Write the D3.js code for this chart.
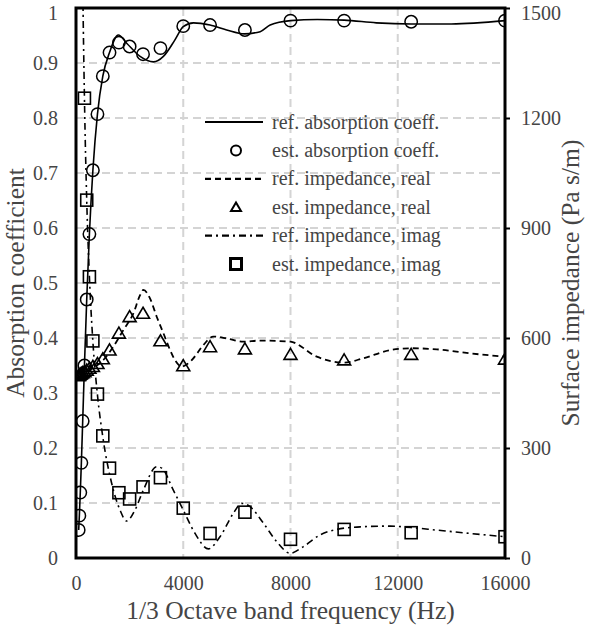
<!DOCTYPE html>
<html>
<head>
<meta charset="utf-8">
<script src="https://cdn.jsdelivr.net/npm/d3@7"></script>
<style>
  html, body { margin: 0; padding: 0; background: #fff; }
  svg { display: block; }
  text { font-family: "Liberation Serif", "Times New Roman", serif; fill: #454545; }
</style>
</head>
<body>
<svg id="chart" width="600" height="628"></svg>
<script>
// ---------- data ----------
const bandFreqs = [100, 125, 160, 200, 250, 315, 400, 500, 630, 800, 1000, 1250, 1600, 2000, 2500, 3150, 4000, 5000, 6300, 8000, 10000, 12500, 16000];
const estAbsorption = [0.051, 0.077, 0.119, 0.173, 0.249, 0.35, 0.47, 0.589, 0.705, 0.807, 0.876, 0.919, 0.937, 0.93, 0.916, 0.927, 0.967, 0.969, 0.96, 0.977, 0.977, 0.975, 0.977];
const estReal = [497, 499, 501, 503, 505, 508, 512, 517, 522, 530, 543, 567, 613, 658, 667, 592, 524, 576, 570, 555, 540, 555, 542];
const imagFreqs = [315, 400, 500, 630, 800, 1000, 1250, 1600, 2000, 2500, 3150, 4000, 5000, 6300, 8000, 10000, 12500, 16000];
const estImag = [1254, 976, 767, 592, 447, 333, 245, 178, 161, 194, 219, 136, 67, 125, 51, 78, 69, 58];

const refAbsFreq = [100, 125, 160, 200, 250, 315, 400, 500, 630, 800, 1000, 1250, 1580, 1890, 2390, 2890, 3260, 3690, 4000, 4380, 5000, 5620, 6280, 6870, 7240, 8000, 9000, 10000, 11200, 12500, 14000, 16000];
const refAbs = [0.051, 0.077, 0.119, 0.173, 0.249, 0.35, 0.47, 0.589, 0.705, 0.807, 0.876, 0.919, 0.951, 0.936, 0.912, 0.902, 0.912, 0.942, 0.966, 0.973, 0.969, 0.96, 0.953, 0.957, 0.969, 0.977, 0.979, 0.978, 0.973, 0.971, 0.971, 0.977];

const refRealFreq = [100, 150, 520, 1020, 1390, 1770, 2140, 2390, 2510, 2760, 3010, 3260, 3510, 3690, 3940, 4320, 4750, 5120, 5620, 6240, 6870, 7990, 8980, 10000, 10720, 11720, 12500, 13460, 14700, 16000];
const refReal = [494, 495, 513, 540, 576, 622, 667, 717, 731, 708, 658, 613, 567, 540, 522, 540, 581, 604, 599, 590, 593, 590, 549, 533, 545, 567, 572, 569, 558, 549];

const refImagFreq = [200, 250, 315, 400, 500, 630, 800, 1000, 1330, 1640, 1890, 2200, 2510, 3010, 3200, 3630, 4000, 4440, 4940, 5370, 5870, 6180, 6490, 6990, 7490, 7990, 8480, 9100, 9730, 10600, 11720, 12500, 13460, 14700, 16000];
const refImag = [1975, 1580, 1254, 976, 767, 590, 445, 330, 204, 131, 101, 131, 185, 249, 245, 185, 131, 67, 25, 58, 122, 149, 140, 95, 44, 13, 31, 63, 78, 85, 87, 83, 76, 67, 58];

const leftTicks = [0, 0.1, 0.2, 0.3, 0.4, 0.5, 0.6, 0.7, 0.8, 0.9, 1];
const leftTickLabels = ["0", "0.1", "0.2", "0.3", "0.4", "0.5", "0.6", "0.7", "0.8", "0.9", "1"];
const rightTicks = [0, 300, 600, 900, 1200, 1500];
const xTicks = [0, 4000, 8000, 12000, 16000];
const legendLabels = ["ref. absorption coeff.", "est. absorption coeff.", "ref. impedance, real", "est. impedance, real", "ref. impedance, imag", "est. impedance, imag"];

// ---------- layout ----------
const svg = d3.select("#chart");
const L = 76, R = 505, T = 8, B = 558;
const x = d3.scaleLinear().domain([0, 16000]).range([L, R]);
const yL = d3.scaleLinear().domain([0, 1]).range([B, T]);
const yR = d3.scaleLinear().domain([0, 1500]).range([B, T]);

svg.append("defs").append("clipPath").attr("id", "clip")
  .append("rect").attr("x", L).attr("y", T).attr("width", R - L).attr("height", B - T);

// gridlines
const grid = svg.append("g");
grid.selectAll("line.h").data(leftTicks.slice(1, -1)).join("line")
  .attr("x1", L).attr("x2", R).attr("y1", d => yL(d)).attr("y2", d => yL(d))
  .attr("stroke", "#d4d4d4").attr("stroke-width", 2).attr("stroke-dasharray", "8,5");
grid.selectAll("line.v").data(xTicks.slice(1, -1)).join("line")
  .attr("y1", T).attr("y2", B).attr("x1", d => x(d)).attr("x2", d => x(d))
  .attr("stroke", "#d4d4d4").attr("stroke-width", 2).attr("stroke-dasharray", "8,5");

// axes (labels)
const axL = svg.append("g").attr("transform", `translate(${L},0)`)
  .call(d3.axisLeft(yL).tickValues(leftTicks).tickFormat((d, i) => leftTickLabels[i]).tickSize(0).tickPadding(18));
const axR = svg.append("g").attr("transform", `translate(${R},0)`)
  .call(d3.axisRight(yR).tickValues(rightTicks).tickFormat(d3.format("d")).tickSize(5).tickPadding(11));
const axB = svg.append("g").attr("transform", `translate(0,${B})`)
  .call(d3.axisBottom(x).tickValues(xTicks).tickFormat(d3.format("d")).tickSize(0).tickPadding(18));
[axL, axR, axB].forEach(a => {
  a.select(".domain").remove();
  a.selectAll("text").attr("font-size", 20).attr("fill", "#454545")
    .style("font-family", '"Liberation Serif", serif');
  a.selectAll("line").attr("stroke", "#000").attr("stroke-width", 2);
});
axB.selectAll("text").attr("dy", "0.71em");
// keep the top labels inside the picture
axL.selectAll(".tick").filter(d => d === 1).select("text").attr("dy", "0.55em");
axR.selectAll(".tick").filter(d => d === 1500).select("text").attr("dy", "0.55em");

// axis titles
svg.append("text").attr("transform", `translate(24,${(T + B) / 2}) rotate(-90)`)
  .attr("text-anchor", "middle").attr("font-size", 25.5).text("Absorption coefficient");
svg.append("text").attr("transform", `translate(579,${(T + B) / 2}) rotate(-90)`)
  .attr("text-anchor", "middle").attr("font-size", 25.5).text("Surface impedance (Pa s/m)");
svg.append("text").attr("x", (L + R) / 2).attr("y", 619)
  .attr("text-anchor", "middle").attr("font-size", 25.5).text("1/3 Octave band frequency (Hz)");

// lines
const plot = svg.append("g").attr("clip-path", "url(#clip)");
const curve = d3.curveMonotoneX;
const lineAbs = d3.line().x((d, i) => x(refAbsFreq[i])).y(d => yL(d)).curve(curve);
const lineReal = d3.line().x((d, i) => x(refRealFreq[i])).y(d => yR(d)).curve(curve);
const lineImag = d3.line().x((d, i) => x(refImagFreq[i])).y(d => yR(d)).curve(curve);

plot.append("path").attr("d", lineImag(refImag)).attr("fill", "none").attr("stroke", "#000")
  .attr("stroke-width", 1.6).attr("stroke-dasharray", "7,4,2,4");
plot.append("path").attr("d", lineReal(refReal)).attr("fill", "none").attr("stroke", "#000")
  .attr("stroke-width", 1.8).attr("stroke-dasharray", "6,4");
plot.append("path").attr("d", lineAbs(refAbs)).attr("fill", "none").attr("stroke", "#000")
  .attr("stroke-width", 1.6);

// markers
const tri = (cx, cy, s) => `M${cx},${cy - s * 0.95}L${cx + s},${cy + s * 0.75}L${cx - s},${cy + s * 0.75}Z`;
plot.selectAll("path.tri").data(estReal).join("path").attr("class", "tri")
  .attr("d", (d, i) => tri(x(bandFreqs[i]), yR(d), 6.5))
  .attr("fill", "none").attr("stroke", "#000").attr("stroke-width", 1.6);
plot.selectAll("rect.sq").data(estImag).join("rect").attr("class", "sq")
  .attr("x", (d, i) => x(imagFreqs[i]) - 6).attr("y", d => yR(d) - 6)
  .attr("width", 12).attr("height", 12)
  .attr("fill", "none").attr("stroke", "#000").attr("stroke-width", 1.6);
plot.selectAll("circle.ci").data(estAbsorption).join("circle").attr("class", "ci")
  .attr("cx", (d, i) => x(bandFreqs[i])).attr("cy", d => yL(d)).attr("r", 6.2)
  .attr("fill", "none").attr("stroke", "#000").attr("stroke-width", 1.5);

// frame
svg.append("rect").attr("x", L).attr("y", T).attr("width", R - L).attr("height", B - T)
  .attr("fill", "none").attr("stroke", "#000").attr("stroke-width", 3);

// legend
const lg = svg.append("g");
const ly0 = 122, ldy = 28.4, lx1 = 205, lx2 = 263, lmx = 236, ltx = 272;
legendLabels.forEach((lab, i) => {
  const yy = ly0 + i * ldy;
  if (i === 0) lg.append("line").attr("x1", lx1).attr("x2", lx2).attr("y1", yy).attr("y2", yy).attr("stroke", "#000").attr("stroke-width", 2.2);
  if (i === 2) lg.append("line").attr("x1", lx1).attr("x2", lx2).attr("y1", yy).attr("y2", yy).attr("stroke", "#000").attr("stroke-width", 2.2).attr("stroke-dasharray", "6,4");
  if (i === 4) lg.append("line").attr("x1", lx1).attr("x2", lx2).attr("y1", yy).attr("y2", yy).attr("stroke", "#000").attr("stroke-width", 2.2).attr("stroke-dasharray", "7,4,2,4");
  if (i === 1) lg.append("circle").attr("cx", lmx).attr("cy", yy).attr("r", 5).attr("fill", "none").attr("stroke", "#000").attr("stroke-width", 2);
  if (i === 3) lg.append("path").attr("d", tri(lmx, yy, 5)).attr("fill", "none").attr("stroke", "#000").attr("stroke-width", 2);
  if (i === 5) lg.append("rect").attr("x", lmx - 5.5).attr("y", yy - 5.5).attr("width", 11).attr("height", 11).attr("fill", "none").attr("stroke", "#000").attr("stroke-width", 3);
  lg.append("text").attr("x", ltx).attr("y", yy).attr("dy", "0.33em").attr("font-size", 20).text(lab);
});
</script>
</body>
</html>
